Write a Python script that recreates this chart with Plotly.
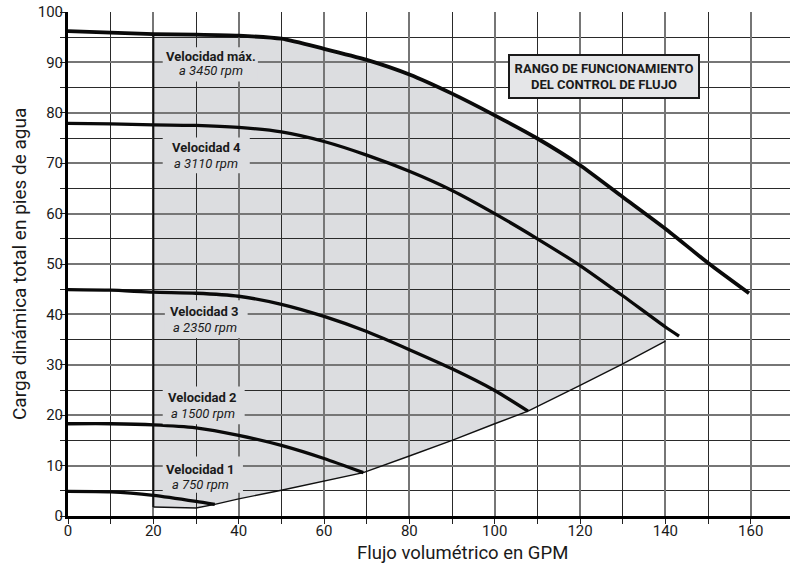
import plotly.graph_objects as go

# ---------------- data ----------------
vmax_x = [0, 10, 20, 30, 40, 50, 60, 70, 80, 90, 100, 110, 120, 130, 140, 150, 159.6]
vmax_y = [96.2, 95.9, 95.6, 95.5, 95.3, 94.7, 92.7, 90.5, 87.6, 83.8, 79.5, 74.9, 69.6, 63.3, 57.0, 50.2, 44.2]

v4_x = [0, 10, 20, 30, 40, 50, 60, 70, 80, 90, 100, 110, 120, 130, 140, 143.2]
v4_y = [77.9, 77.8, 77.6, 77.5, 77.1, 76.2, 74.3, 71.6, 68.4, 64.6, 60.0, 55.0, 49.7, 43.7, 37.5, 35.7]

v3_x = [0, 10, 20, 30, 40, 50, 60, 70, 80, 90, 100, 107.8]
v3_y = [44.9, 44.8, 44.4, 44.2, 43.6, 42.0, 39.6, 36.6, 33.0, 29.2, 24.9, 20.8]

v2_x = [0, 10, 20, 30, 40, 50, 60, 69.2]
v2_y = [18.3, 18.3, 18.1, 17.5, 16.0, 14.0, 11.4, 8.6]

v1_x = [0, 10, 20, 30, 34.4]
v1_y = [4.9, 4.8, 4.1, 2.9, 2.3]

# lower limit of the flow-control operating range
lim_x = [20, 30, 34.4, 40, 50, 60, 69.2, 80, 90, 100, 107.8, 120, 130, 140]
lim_y = [1.8, 1.6, 2.3, 3.4, 5.1, 6.9, 8.6, 11.9, 15.0, 18.3, 20.8, 25.9, 30.2, 34.7]
range_x_min = 20
range_x_max = 140

x_ticks = [0, 20, 40, 60, 80, 100, 120, 140, 160]
y_ticks = [0, 10, 20, 30, 40, 50, 60, 70, 80, 90, 100]

speed_names = ["Velocidad máx.", "Velocidad 4", "Velocidad 3", "Velocidad 2", "Velocidad 1"]
speed_rpm = ["a 3450 rpm", "a 3110 rpm", "a 2350 rpm", "a 1500 rpm", "a 750 rpm"]

box_title = "RANGO DE FUNCIONAMIENTO<br>DEL CONTROL DE FLUJO"
x_title = "Flujo volumétrico en GPM"
y_title = "Carga dinámica total en pies de agua"

# ---------------- layout config ----------------
FONT = "Roboto"
FILL = "#dcdde0"
MAJOR_GRID = "#767676"
MINOR_GRID = "#2a2a2a"

# label placement: (x center, y of bold line, y of italic line, box x0, x1, y0, y1)
label_pos = [
    (33.4, 91.1, 88.4, 22.2, 44.5, 86.2, 93.0),
    (32.4, 73.2, 69.9, 22.2, 42.6, 68.0, 75.1),
    (32.0, 40.6, 37.5, 22.7, 42.1, 35.3, 42.8),
    (31.6, 23.6, 20.4, 22.2, 41.4, 18.2, 25.7),
    (31.1, 9.3, 6.2, 22.2, 41.0, 4.6, 11.8),
]

fig = go.Figure()

# shaded operating range (built from the curve arrays), drawn under the grid
top = [(x, y) for x, y in zip(vmax_x, vmax_y) if range_x_min <= x <= range_x_max]
bottom = list(zip(lim_x, lim_y))
pts = [(range_x_min, lim_y[0])] + top + [(range_x_max, lim_y[-1])] + bottom[::-1]
path = "M " + " L ".join(f"{x},{y}" for x, y in pts) + " Z"
fig.add_shape(type="path", path=path, xref="x", yref="y",
              fillcolor=FILL, line=dict(width=0), layer="below")

# left edge of range
fig.add_trace(go.Scatter(x=[range_x_min, range_x_min], y=[lim_y[0], vmax_y[vmax_x.index(range_x_min)]],
                         mode="lines", line=dict(color="#111", width=2), hoverinfo="skip"))
# lower limit line
fig.add_trace(go.Scatter(x=lim_x, y=lim_y, mode="lines",
                         line=dict(color="#111", width=1.4), hoverinfo="skip"))

curves = [(vmax_x, vmax_y, 3.8), (v4_x, v4_y, 3.3), (v3_x, v3_y, 3.3), (v2_x, v2_y, 3.3), (v1_x, v1_y, 3.3)]
for cx, cy, w in curves:
    fig.add_trace(go.Scatter(x=cx, y=cy, mode="lines",
                             line=dict(color="#0a0a0a", width=w, shape="spline", smoothing=0.6),
                             hoverinfo="skip"))

# speed labels
for name, rpm, (xc, yb, yi, bx0, bx1, by0, by1) in zip(speed_names, speed_rpm, label_pos):
    fig.add_shape(type="rect", xref="x", yref="y", x0=bx0, x1=bx1, y0=by0, y1=by1,
                  fillcolor=FILL, line=dict(width=0), layer="above")
    fig.add_annotation(x=xc, y=yb, xref="x", yref="y", text=f"<b>{name}</b>", showarrow=False,
                       font=dict(family=FONT, size=13, color="#1a1a1a"))
    fig.add_annotation(x=xc, y=yi, xref="x", yref="y", text=f"<i>{rpm}</i>", showarrow=False,
                       font=dict(family=FONT, size=13, color="#1a1a1a"))

# boxed legend text
fig.add_annotation(x=125.6, y=87.2, xref="x", yref="y", text=f"<b>{box_title}</b>", showarrow=False,
                   font=dict(family=FONT, size=13, color="#1a1a1a"),
                   bgcolor="#e5e6e8", bordercolor="#1a1a1a", borderwidth=2, borderpad=0,
                   width=188, height=41)

# axis titles
fig.add_annotation(x=92.4, y=0, xref="x", yref="paper", yshift=-37, text=x_title, showarrow=False,
                   yanchor="middle", font=dict(family=FONT, size=18.5, color="#1a1a1a"))
fig.add_annotation(x=0, y=0.5, xref="paper", yref="paper", xshift=-49, text=y_title, showarrow=False,
                   textangle=-90, xanchor="center", yanchor="middle",
                   font=dict(family=FONT, size=19, color="#1a1a1a"))

fig.update_layout(
    width=790, height=566,
    margin=dict(l=68, r=0, t=12, b=50),
    paper_bgcolor="white", plot_bgcolor="white",
    showlegend=False,
    font=dict(family=FONT, size=15, color="#1a1a1a"),
)
fig.update_xaxes(
    range=[0, 169.2], tickmode="linear", tick0=x_ticks[0], dtick=x_ticks[1] - x_ticks[0],
    ticks="outside", ticklen=5, tickcolor="#222", tickwidth=1.2, ticklabelstandoff=-6,
    showgrid=True, gridcolor=MAJOR_GRID, gridwidth=2,
    minor=dict(dtick=(x_ticks[1] - x_ticks[0]) / 2, showgrid=True, gridcolor=MINOR_GRID, gridwidth=1.3,
               ticks="outside", ticklen=5, tickcolor="#222"),
    showline=True, linecolor="#000", linewidth=3, zeroline=False,
    tickfont=dict(family=FONT, size=15, color="#1a1a1a"),
)
fig.update_yaxes(
    range=[0, 100], tickmode="linear", tick0=y_ticks[0], dtick=y_ticks[1] - y_ticks[0],
    ticks="outside", ticklen=5, tickcolor="#222", tickwidth=1.2, ticklabelstandoff=-6,
    showgrid=True, gridcolor=MAJOR_GRID, gridwidth=2,
    minor=dict(dtick=(y_ticks[1] - y_ticks[0]) / 2, showgrid=True, gridcolor=MINOR_GRID, gridwidth=1.3,
               ticks="outside", ticklen=5, tickcolor="#222"),
    showline=True, linecolor="#000", linewidth=3, zeroline=False,
    tickfont=dict(family=FONT, size=15, color="#1a1a1a"),
)

fig.write_html("out.html", config={"displayModeBar": False},
               post_script="document.body.style.margin='0';")
